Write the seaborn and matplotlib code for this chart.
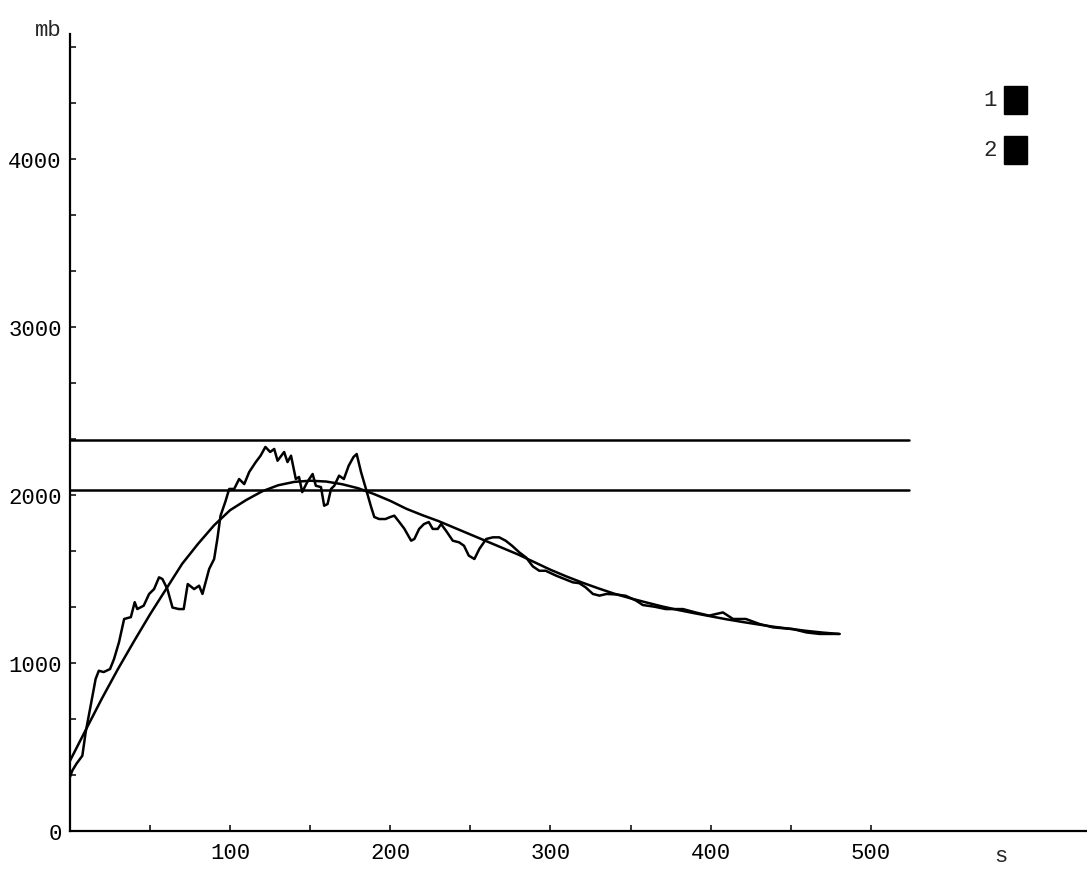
import numpy as np
import pandas as pd
import matplotlib
matplotlib.use("Agg")
import matplotlib.pyplot as plt
from matplotlib.patches import Rectangle
import seaborn as sns

# measured pressure trace (time in s, pressure in mb)
meas_t = [0, 1.4, 4, 7.7, 9.8, 12.9, 16, 18, 21, 25, 27.5, 30.6, 33.8, 38, 40.4, 42, 46,
          49.4, 52.5, 55.6, 57.7, 60.8, 64, 68, 71, 73.5, 77.5, 80.6, 82.7, 86.9, 90, 92,
          94, 97, 99.4, 102.5, 105.6, 108.8, 111.9, 116, 119, 122, 125, 127.5, 129.6,
          133.7, 135.8, 138, 141, 143, 145, 148, 151.5, 153.5, 156.7, 158.7, 160.8, 163,
          165, 168, 171, 174, 177, 179, 181.7, 184.8, 188, 190, 193, 197, 200, 202.5,
          205.6, 208.7, 213, 215, 218, 221, 224, 226.5, 229.6, 231.7, 234.8, 239, 243,
          246, 249, 252.5, 255.6, 257.7, 259.8, 264, 268, 272, 276, 280.6, 284.8, 287,
          289, 293, 297, 303.5, 314, 318, 322, 326.5, 330.6, 335, 341, 347, 353.5, 357.7,
          365, 372, 382.7, 391, 399, 407.7, 414, 422, 430.6, 439, 451.4, 459.8, 468, 480.6]
meas_p = [321, 359, 400, 448, 589, 746, 905, 954, 946, 964, 1024, 1124, 1262, 1273, 1362,
          1321, 1341, 1411, 1440, 1510, 1500, 1440, 1330, 1321, 1321, 1470, 1440, 1460,
          1411, 1560, 1619, 1738, 1877, 1960, 2036, 2036, 2095, 2065, 2137, 2196, 2234,
          2286, 2256, 2274, 2204, 2256, 2196, 2234, 2095, 2107, 2017, 2075, 2125, 2055,
          2047, 1936, 1946, 2036, 2055, 2115, 2095, 2174, 2226, 2244, 2137, 2036, 1929,
          1869, 1857, 1857, 1869, 1877, 1839, 1800, 1728, 1738, 1798, 1827, 1839, 1798,
          1798, 1827, 1787, 1728, 1718, 1698, 1639, 1619, 1679, 1708, 1738, 1748, 1748,
          1728, 1698, 1658, 1628, 1600, 1575, 1549, 1549, 1520, 1480, 1475, 1450, 1411,
          1401, 1411, 1408, 1400, 1371, 1345, 1335, 1321, 1321, 1300, 1282, 1301, 1262,
          1262, 1232, 1212, 1202, 1182, 1173, 1173]

# fitted curve
fit_t = list(range(0, 481, 10))
fit_p = [418, 605, 790, 965, 1130, 1290, 1440, 1590, 1710, 1820, 1910, 1970, 2022, 2058,
         2078, 2085, 2080, 2064, 2040, 2005, 1965, 1918, 1880, 1845, 1805, 1765, 1725,
         1685, 1645, 1600, 1555, 1515, 1478, 1444, 1412, 1385, 1360, 1336, 1315, 1296,
         1278, 1260, 1244, 1229, 1215, 1203, 1191, 1181, 1173]

# reference levels
level_p = [2327, 2030]
level_t = [0, 524]

x_ticks = [100, 200, 300, 400, 500]
x_minor = [50, 150, 250, 350, 450]
y_ticks = [0, 1000, 2000, 3000, 4000]
legend_labels = ["1", "2"]

sns.set_style("white")
plt.rcParams["font.family"] = ["Liberation Mono", "DejaVu Sans Mono"]

fig = plt.figure(figsize=(10.87, 8.7), dpi=100)
ax = fig.add_axes([70 / 1087, 38 / 870, 1 - 70 / 1087, 797 / 870])

meas = pd.DataFrame({"t": meas_t, "p": meas_p})
fit = pd.DataFrame({"t": fit_t, "p": fit_p})
sns.lineplot(data=meas, x="t", y="p", ax=ax, color="black", lw=1.8,
             estimator=None, sort=False)
sns.lineplot(data=fit, x="t", y="p", ax=ax, color="black", lw=1.8,
             estimator=None, sort=False)
for lv in level_p:
    ax.plot(level_t, [lv, lv], color="black", lw=1.8)

ax.set_xlim(0, 635)
ax.set_ylim(0, 4744)
ax.set_xlabel("")
ax.set_ylabel("")

for side in ["top", "right"]:
    ax.spines[side].set_visible(False)
for side in ["left", "bottom"]:
    ax.spines[side].set_color("black")
    ax.spines[side].set_linewidth(1.6)

ax.set_xticks(x_ticks)
ax.set_xticklabels([str(v) for v in x_ticks])
ax.set_xticks(x_minor, minor=True)
ax.set_yticks(y_ticks)
ax.set_yticklabels([str(v) for v in y_ticks])
ax.set_yticks([v for v in np.arange(0, 4700, 1000 / 3) if round(v) % 1000 != 0], minor=True)
ax.tick_params(axis="both", which="both", direction="in", length=4, width=1.1,
               color="black", labelsize=16, labelcolor="black")
ax.tick_params(axis="y", which="major", pad=6)
ax.tick_params(axis="x", which="major", pad=8)
ax.tick_params(left=True, bottom=True, which="both")

fig.text(48 / 1087, 1 - 30 / 870, "mb", ha="center", va="center", fontsize=16)
fig.text(1001 / 1087, 1 - 857 / 870, "s", ha="center", va="center", fontsize=16)

# key boxes
for i, lab in enumerate(legend_labels):
    yc = 101 + 50 * i
    fig.text(990 / 1087, 1 - yc / 870, lab, ha="center", va="center", fontsize=16)
    fig.patches.append(Rectangle((1004 / 1087, 1 - (yc + 14) / 870), 23 / 1087, 28 / 870,
                                 transform=fig.transFigure, color="black"))

fig.savefig("out.png", dpi=100, facecolor="white")
